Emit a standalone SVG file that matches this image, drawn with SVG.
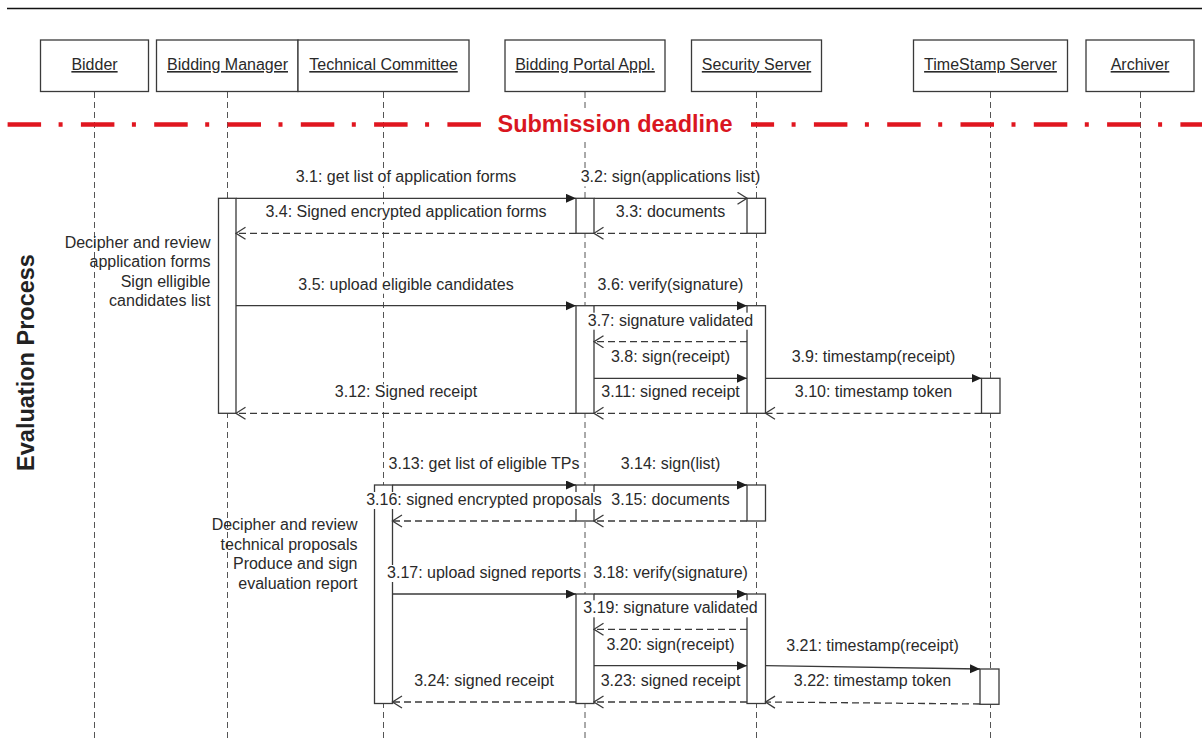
<svg xmlns="http://www.w3.org/2000/svg" width="1202" height="740" viewBox="0 0 1202 740">
  <style>
    .hbox { fill: #fff; stroke: #3a3a3a; stroke-width: 1.3; }
    .htxt { font-family: "Liberation Sans", Arial, sans-serif; font-size: 16px; fill: #2a2a2a; text-anchor: middle; text-decoration: underline; }
    .life { stroke: #555; stroke-width: 1; stroke-dasharray: 6 4; fill: none; }
    .act { fill: #fff; stroke: #3a3a3a; stroke-width: 1.3; }
    .call { stroke: #3a3a3a; stroke-width: 1.3; fill: none; marker-end: url(#solidHead); }
    .async { stroke: #3a3a3a; stroke-width: 1.3; fill: none; marker-end: url(#openHead); }
    .ret { stroke: #3a3a3a; stroke-width: 1.3; fill: none; stroke-dasharray: 7 4; marker-end: url(#openHead); }
    .lbl { font-family: "Liberation Sans", Arial, sans-serif; font-size: 16px; fill: #2a2a2a; text-anchor: middle; }
    .lblbg { fill: #fff; }
    .note { font-family: "Liberation Sans", Arial, sans-serif; font-size: 16px; fill: #2a2a2a; text-anchor: end; }
    .deadline { stroke: #e0161f; stroke-width: 4.5; fill: none; stroke-dasharray: 33.5 17.5 4 18.3; }
    .deadtxt { font-family: "Liberation Sans", Arial, sans-serif; font-size: 23.5px; font-weight: bold; fill: #d9161f; text-anchor: middle; }
    .phase { font-family: "Liberation Sans", Arial, sans-serif; font-size: 23.5px; font-weight: bold; fill: #222; text-anchor: middle; }
  </style>
  <defs>
    <marker id="solidHead" markerUnits="userSpaceOnUse" markerWidth="11" markerHeight="10" refX="10" refY="4.5" orient="auto">
      <path d="M0,0 L10,4.5 L0,9 Z" fill="#1e1e1e"/>
    </marker>
    <marker id="openHead" markerUnits="userSpaceOnUse" markerWidth="12" markerHeight="14" refX="10.5" refY="6.5" orient="auto">
      <path d="M1,0.5 L10.5,6.5 L1,12.5" fill="none" stroke="#3a3a3a" stroke-width="1.3"/>
    </marker>
  </defs>

  <rect width="1202" height="740" fill="#fff"/>

  <!-- frame rule at the top -->
  <line x1="7" y1="8.5" x2="1202" y2="8.5" stroke="#111" stroke-width="1.5"/>

  <!-- lifelines -->
  <g id="lifelines">
    <line class="life" x1="94.5" y1="92" x2="94.5" y2="740"/>
    <line class="life" x1="227.5" y1="92" x2="227.5" y2="740"/>
    <line class="life" x1="383.5" y1="92" x2="383.5" y2="740"/>
    <line class="life" x1="585" y1="92" x2="585" y2="740"/>
    <line class="life" x1="756.5" y1="92" x2="756.5" y2="740"/>
    <line class="life" x1="990.5" y1="92" x2="990.5" y2="740"/>
    <line class="life" x1="1140.5" y1="92" x2="1140.5" y2="740"/>
  </g>

  <!-- participants -->
  <g id="bidder">
    <rect class="hbox" x="40.5" y="40" width="108" height="51.5"/>
    <text class="htxt" x="94.5" y="70">Bidder</text>
  </g>
  <g id="bidding-manager">
    <rect class="hbox" x="156.5" y="40" width="141.5" height="51.5"/>
    <text class="htxt" x="227.5" y="70">Bidding Manager</text>
  </g>
  <g id="technical-committee">
    <rect class="hbox" x="298" y="40" width="171" height="51.5"/>
    <text class="htxt" x="383.5" y="70">Technical Committee</text>
  </g>
  <g id="bidding-portal">
    <rect class="hbox" x="505" y="40" width="160" height="51.5"/>
    <text class="htxt" x="585" y="70">Bidding Portal Appl.</text>
  </g>
  <g id="security-server">
    <rect class="hbox" x="691.5" y="40" width="130" height="51.5"/>
    <text class="htxt" x="756.5" y="70">Security Server</text>
  </g>
  <g id="timestamp-server">
    <rect class="hbox" x="913.5" y="40" width="154" height="51.5"/>
    <text class="htxt" x="990.5" y="70">TimeStamp Server</text>
  </g>
  <g id="archiver">
    <rect class="hbox" x="1086" y="40" width="108" height="51.5"/>
    <text class="htxt" x="1140" y="70">Archiver</text>
  </g>

  <!-- submission deadline separator -->
  <g id="deadline">
    <line class="deadline" x1="7.6" y1="124.5" x2="1202" y2="124.5"/>
    <rect x="486" y="109" width="265" height="30" fill="#fff"/>
    <text class="deadtxt" x="615" y="131.5">Submission deadline</text>
  </g>

  <!-- phase caption -->
  <text class="phase" transform="translate(33.5,362.5) rotate(-90)" x="0" y="0">Evaluation Process</text>

  <!-- activation bars -->
  <g id="activations">
    <rect class="act" x="218.5" y="198.3" width="17.5" height="215"/>
    <rect class="act" x="576" y="198.3" width="18" height="35"/>
    <rect class="act" x="747" y="198.3" width="18.5" height="35"/>
    <rect class="act" x="576" y="305.7" width="18" height="107.6"/>
    <rect class="act" x="747" y="305.7" width="18.5" height="107.6"/>
    <rect class="act" x="981.5" y="378.3" width="18.5" height="35"/>
    <rect class="act" x="374.5" y="485" width="18" height="218.5"/>
    <rect class="act" x="576" y="485" width="18" height="36"/>
    <rect class="act" x="747" y="485" width="18.5" height="36"/>
    <rect class="act" x="576" y="594" width="18" height="109.5"/>
    <rect class="act" x="747" y="594" width="18.5" height="109.5"/>
    <rect class="act" x="980" y="669" width="19" height="35.3"/>
  </g>

  <!-- notes beside the activations -->
  <g id="note-application-review">
    <text class="note" x="210.5" y="248">Decipher and review</text>
    <text class="note" x="210.5" y="267">application forms</text>
    <text class="note" x="210.5" y="286.5">Sign elligible</text>
    <text class="note" x="210.5" y="305.5">candidates list</text>
  </g>
  <g id="note-proposal-review">
    <text class="note" x="357.5" y="530">Decipher and review</text>
    <text class="note" x="357.5" y="549.5">technical proposals</text>
    <text class="note" x="357.5" y="569">Produce and sign</text>
    <text class="note" x="357.5" y="589">evaluation report</text>
  </g>

  <!-- message label backgrounds -->
  <g id="label-backgrounds">
    <rect class="lblbg" x="295" y="169.3" width="222.5" height="17"/>
    <rect class="lblbg" x="580" y="169.3" width="181.6" height="17"/>
    <rect class="lblbg" x="615" y="204.3" width="111.4" height="17"/>
    <rect class="lblbg" x="264.5" y="204.3" width="283" height="17"/>
    <rect class="lblbg" x="297.5" y="276.7" width="217" height="17"/>
    <rect class="lblbg" x="596.5" y="276.7" width="148" height="17"/>
    <rect class="lblbg" x="586.8" y="312.7" width="167.4" height="17"/>
    <rect class="lblbg" x="610" y="349.3" width="121" height="17"/>
    <rect class="lblbg" x="790.7" y="349.3" width="165.6" height="17"/>
    <rect class="lblbg" x="793.8" y="384.3" width="159.4" height="17"/>
    <rect class="lblbg" x="599.7" y="384.3" width="141.6" height="17"/>
    <rect class="lblbg" x="333.9" y="384.3" width="144.3" height="17"/>
    <rect class="lblbg" x="387.4" y="456" width="193.2" height="17"/>
    <rect class="lblbg" x="619.7" y="456" width="101.6" height="17"/>
    <rect class="lblbg" x="610.4" y="492" width="120.3" height="17"/>
    <rect class="lblbg" x="365.2" y="492" width="237.7" height="17"/>
    <rect class="lblbg" x="386" y="565" width="196" height="17"/>
    <rect class="lblbg" x="592.2" y="565" width="156.7" height="17"/>
    <rect class="lblbg" x="582.4" y="600.3" width="176.3" height="17"/>
    <rect class="lblbg" x="605.5" y="636.7" width="130" height="17"/>
    <rect class="lblbg" x="785.3" y="638" width="174.5" height="17"/>
    <rect class="lblbg" x="792.8" y="673" width="159.4" height="17"/>
    <rect class="lblbg" x="599.7" y="673" width="141.6" height="17"/>
    <rect class="lblbg" x="413.2" y="673" width="141.6" height="17"/>
  </g>

  <!-- messages -->
  <g id="connectors">
    <path class="call" d="M236,198.3 H576"/>
    <path class="async" d="M594,198.3 H747"/>
    <path class="ret" d="M747,233.3 H594"/>
    <path class="ret" d="M576,233.3 H236"/>
    <path class="call" d="M236,305.7 H576"/>
    <path class="call" d="M594,305.7 H747"/>
    <path class="ret" d="M747,341.7 H594"/>
    <path class="call" d="M594,378.3 H747"/>
    <path class="call" d="M765.5,378.3 H981.5"/>
    <path class="ret" d="M981.5,413.3 H765.5"/>
    <path class="ret" d="M747,413.3 H594"/>
    <path class="ret" d="M576,413.3 H236"/>
    <path class="call" d="M392.5,485 H576"/>
    <path class="call" d="M594,485 H747"/>
    <path class="ret" d="M747,521 H594"/>
    <path class="ret" d="M576,521 H392.5"/>
    <path class="call" d="M392.5,594 H576"/>
    <path class="call" d="M594,594 H747"/>
    <path class="ret" d="M747,629.3 H594"/>
    <path class="call" d="M594,665.7 H747"/>
    <path class="call" d="M765.5,665.7 L980,669"/>
    <path class="ret" d="M980,704 L765.5,702"/>
    <path class="ret" d="M747,702 H594"/>
    <path class="ret" d="M576,702 H392.5"/>
  </g>

  <!-- message labels -->
  <g id="labels">
    <text class="lbl" x="406" y="182.3">3.1: get list of application forms</text>
    <text class="lbl" x="670.5" y="182.3">3.2: sign(applications list)</text>
    <text class="lbl" x="670.5" y="217.3">3.3: documents</text>
    <text class="lbl" x="406" y="217.3">3.4: Signed encrypted application forms</text>
    <text class="lbl" x="406" y="289.7">3.5: upload eligible candidates</text>
    <text class="lbl" x="670.5" y="289.7">3.6: verify(signature)</text>
    <text class="lbl" x="670.5" y="325.7">3.7: signature validated</text>
    <text class="lbl" x="670.5" y="362.3">3.8: sign(receipt)</text>
    <text class="lbl" x="873.5" y="362.3">3.9: timestamp(receipt)</text>
    <text class="lbl" x="873.5" y="397.3">3.10: timestamp token</text>
    <text class="lbl" x="670.5" y="397.3">3.11: signed receipt</text>
    <text class="lbl" x="406" y="397.3">3.12: Signed receipt</text>
    <text class="lbl" x="484" y="469">3.13: get list of eligible TPs</text>
    <text class="lbl" x="670.5" y="469">3.14: sign(list)</text>
    <text class="lbl" x="670.5" y="505">3.15: documents</text>
    <text class="lbl" x="484" y="505">3.16: signed encrypted proposals</text>
    <text class="lbl" x="484" y="578">3.17: upload signed reports</text>
    <text class="lbl" x="670.5" y="578">3.18: verify(signature)</text>
    <text class="lbl" x="670.5" y="613.3">3.19: signature validated</text>
    <text class="lbl" x="670.5" y="649.7">3.20: sign(receipt)</text>
    <text class="lbl" x="872.5" y="651">3.21: timestamp(receipt)</text>
    <text class="lbl" x="872.5" y="686">3.22: timestamp token</text>
    <text class="lbl" x="670.5" y="686">3.23: signed receipt</text>
    <text class="lbl" x="484" y="686">3.24: signed receipt</text>
  </g>
</svg>
